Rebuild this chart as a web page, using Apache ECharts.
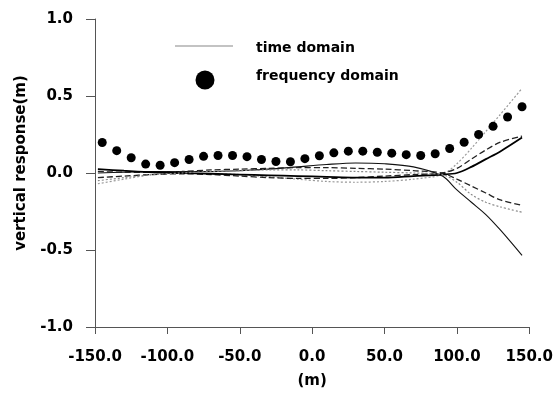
<!DOCTYPE html>
<html><head><meta charset="utf-8">
<script src="https://cdn.jsdelivr.net/npm/echarts@6/dist/echarts.min.js"></script>
<style>html,body{margin:0;padding:0;background:#fff}#c{width:556px;height:394px}</style>
</head><body><div id="c"></div>
<script>
const freqX = [-145,-135,-125,-115,-105,-95,-85,-75,-65,-55,-45,-35,-25,-15,-5,5,15,25,35,45,55,65,75,85,95,105,115,125,135,145];
const freqY = [0.198,0.145,0.099,0.058,0.05,0.067,0.088,0.108,0.114,0.114,0.106,0.088,0.075,0.073,0.093,0.112,0.131,0.142,0.142,0.135,0.129,0.119,0.114,0.125,0.159,0.2,0.25,0.303,0.364,0.43];

const timeX = [-148,-130,-110,-90,-70,-50,-30,-10,10,30,50,70,90,100,110,120,130,145];
const timeL1 = [0.0,0.005,0.01,0.01,0.01,0.015,0.025,0.04,0.055,0.065,0.06,0.04,-0.02,-0.11,-0.19,-0.27,-0.37,-0.535];
const timeL2 = [-0.07,-0.04,-0.01,0.0,-0.005,-0.01,-0.025,-0.04,-0.055,-0.06,-0.055,-0.04,-0.01,0.06,0.16,0.27,0.38,0.55];
const timeL3 = [-0.03,-0.02,-0.01,-0.005,-0.01,-0.02,-0.03,-0.035,-0.035,-0.03,-0.02,-0.01,0.0,0.03,0.09,0.15,0.2,0.24];
const timeL4 = [0.01,0.005,0.005,0.01,0.02,0.025,0.03,0.035,0.035,0.03,0.025,0.015,0.0,-0.04,-0.085,-0.13,-0.175,-0.21];
const timeL5 = [0.025,0.015,0.005,0.0,-0.005,-0.01,-0.015,-0.02,-0.025,-0.03,-0.03,-0.02,-0.01,0.0,0.04,0.09,0.14,0.23];
const timeL6 = [-0.05,-0.03,-0.01,0.0,0.01,0.015,0.02,0.02,0.015,0.01,0.005,0.0,-0.01,-0.06,-0.14,-0.19,-0.22,-0.255];

const xTicks = [-150,-100,-50,0,50,100,150];
const yTicks = [-1.0,-0.5,0.0,0.5,1.0];

function pairs(xs, ys){ return xs.map((x,i)=>[x,ys[i]]); }
const FONT = 'DejaVu Sans, Verdana, sans-serif';

const lineDefs = [
  {d: timeL1, color:'#111', w:1.1, type:'solid'},
  {d: timeL2, color:'#999', w:1.2, type:[2,2]},
  {d: timeL3, color:'#222', w:1.3, type:[6,3]},
  {d: timeL4, color:'#222', w:1.3, type:[6,3]},
  {d: timeL5, color:'#000', w:1.8, type:'solid'},
  {d: timeL6, color:'#888', w:1.2, type:[2,2]}
];

const series = lineDefs.map(l=>({
  name:'time domain', type:'line', smooth:0.3, symbol:'none',
  data: pairs(timeX, l.d),
  lineStyle:{color:l.color, width:l.w, type:l.type}, z:2
}));
series.push({
  name:'frequency domain', type:'scatter', symbol:'circle', symbolSize:9,
  itemStyle:{color:'#000', opacity:1}, data: pairs(freqX, freqY), z:3
});

const chart = echarts.init(document.getElementById('c'));
chart.setOption({
  animation:false,
  backgroundColor:'#fff',
  grid:{left:95, right:24, top:19, bottom:65},
  xAxis:{
    type:'value', min:-150, max:150, interval:50,
    name:'(m)', nameLocation:'middle', nameGap:47,
    nameTextStyle:{fontFamily:FONT, fontWeight:'bold', fontSize:15, color:'#000'},
    axisLine:{show:true, onZero:false, lineStyle:{color:'#555', width:1}},
    axisTick:{show:true, length:7, lineStyle:{color:'#555'}},
    axisLabel:{formatter:v=>xTicks.includes(v)?v.toFixed(1):'', fontFamily:FONT, fontWeight:'bold', fontSize:15, color:'#000', margin:23},
    splitLine:{show:false}
  },
  yAxis:{
    type:'value', min:-1, max:1, interval:0.5,
    axisLine:{show:true, onZero:false, lineStyle:{color:'#555', width:1}},
    axisTick:{show:true, length:9, lineStyle:{color:'#555'}},
    axisLabel:{formatter:v=>yTicks.includes(v)?v.toFixed(1):'', fontFamily:FONT, fontWeight:'bold', fontSize:15, color:'#000', margin:22},
    splitLine:{show:false}
  },
  graphic:[
    {type:'text', x:21, y:163, rotation:Math.PI/2, style:{text:'vertical response(m)', font:'bold 15px DejaVu Sans, Verdana, sans-serif', fill:'#000', align:'center', verticalAlign:'middle'}},
    {type:'line', shape:{x1:175,y1:46,x2:233,y2:46}, style:{stroke:'#888', lineWidth:1.2}},
    {type:'text', x:256, y:48, style:{text:'time domain', font:'bold 14px DejaVu Sans, Verdana, sans-serif', fill:'#000', align:'left', verticalAlign:'middle'}},
    {type:'circle', shape:{cx:205, cy:80, r:9.5}, style:{fill:'#000'}},
    {type:'text', x:256, y:76, style:{text:'frequency domain', font:'bold 14px DejaVu Sans, Verdana, sans-serif', fill:'#000', align:'left', verticalAlign:'middle'}}
  ],
  series: series
});
</script></body></html>
